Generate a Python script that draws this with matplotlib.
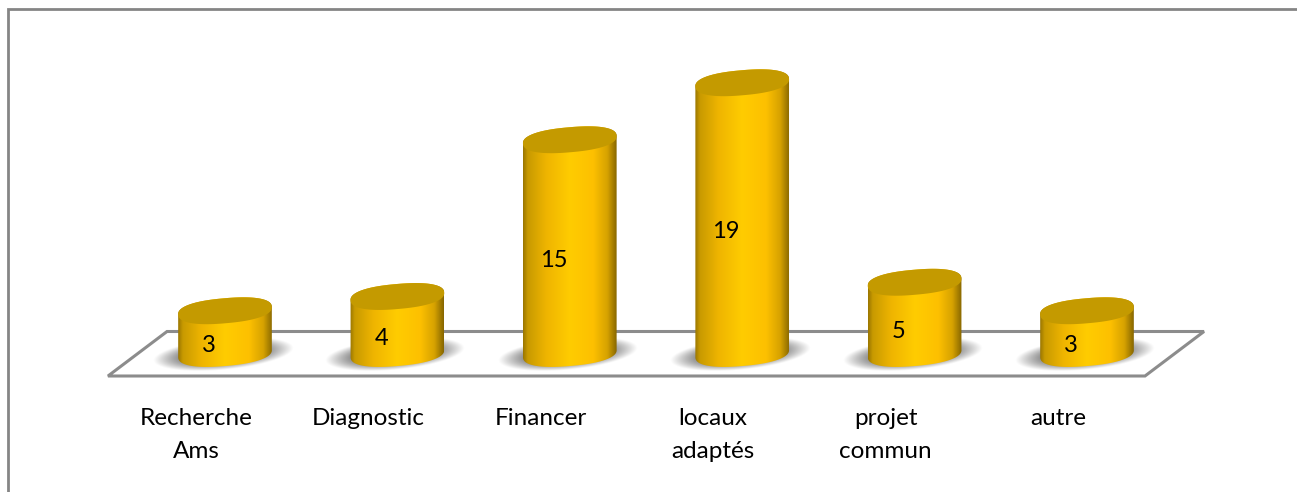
import numpy as np
import matplotlib
matplotlib.use('Agg')
import matplotlib.pyplot as plt
from matplotlib.colors import LinearSegmentedColormap
from matplotlib.patches import Polygon

plt.rcParams['font.family'] = ['Lato', 'DejaVu Sans']

labels = ['Recherche\nAms', 'Diagnostic', 'Financer', 'locaux\nadaptés', 'projet\ncommun', 'autre']
values = [3, 4, 15, 19, 5, 3]

W, H = 1297, 492
# pixels per category / per unit of value
x0, dx = 225, 172.4
y0, dy = 353.5, 14.25

fig = plt.figure(figsize=(W / 100, H / 100), dpi=100)
ax = fig.add_axes([0, 0, 1, 1])
ax.set_xlim((0 - x0) / dx, (W - x0) / dx)
ax.set_ylim((y0 - H) / dy, (y0 - 0) / dy)
ax.axis('off')

# conversions for things sized in pixels
px = 1 / dx
py = 1 / dy

# frame: left and top only, the picture is cropped on the other sides
frame_x = np.array([8, 8, 1297])
frame_y = np.array([492, 9, 9])
ax.plot((frame_x - x0) * px, (y0 - frame_y) * py, color='#858585', lw=2.0, solid_joinstyle='miter')

# floor
floor = np.array([[108, 376], [1145, 376], [1204, 331.5], [167, 331.5]], dtype=float)
floor_d = np.column_stack([(floor[:, 0] - x0) * px, (y0 - floor[:, 1]) * py])
ax.add_patch(Polygon(floor_d, closed=True, fill=False, ec='#8c8c8c', lw=2.2, joinstyle='miter', zorder=1))

body_cmap = LinearSegmentedColormap.from_list('body', [
    (0.0, '#9a7600'), (0.05, '#c89a00'), (0.25, '#efb500'), (0.5, '#ffcc00'),
    (0.75, '#fdc000'), (0.9, '#d6a200'), (1.0, '#866600')])


def ellipse(cx, cy, a=47, b=12.5, tilt=5.0, start=0, end=2 * np.pi, n=160):
    # tilted, slightly squared ellipse, returned in data coordinates
    t = np.linspace(start, end, n)
    r = np.radians(tilt)
    ex = a * np.sign(np.cos(t)) * np.abs(np.cos(t)) ** 0.85
    ey = b * np.sign(np.sin(t)) * np.abs(np.sin(t)) ** 0.85
    xs = ex * np.cos(r) - ey * np.sin(r)
    ys = ex * np.sin(r) + ey * np.cos(r)
    return cx + xs * px, cy + ys * py


for i, v in enumerate(values):
    # soft shadow on the floor, tilted like the cylinder base
    sx = np.linspace(i - 80 * px, i + 76 * px, 160)
    sy = np.linspace(-24 * py, 24 * py, 70)
    gx, gy = np.meshgrid(sx, sy)
    u = (gx - (i - 2 * px)) / px
    w = gy / py - u * 0.09
    d = (u / 70) ** 2 + (w / 16) ** 2
    alpha = np.clip(1 - d, 0, 1) ** 1.1 * 1.5
    img = np.zeros(alpha.shape + (4,))
    img[..., :3] = 0.5
    img[..., 3] = np.clip(alpha, 0, 1)
    ax.imshow(img, extent=(sx[0], sx[-1], sy[0], sy[-1]), origin='lower', aspect='auto',
              zorder=2, interpolation='bilinear')

    # body of the cylinder: gradient clipped to the outline
    xt, yt = ellipse(i, v, start=0, end=np.pi)
    xb, yb = ellipse(i, 0, start=np.pi, end=2 * np.pi)
    outline = np.column_stack([np.r_[xt, xb], np.r_[yt, yb]])
    grad = np.linspace(0, 1, 256).reshape(1, -1)
    im = ax.imshow(grad, cmap=body_cmap, extent=(i - 47 * px, i + 47 * px, -18 * py, v + 18 * py),
                   aspect='auto', zorder=3, interpolation='bilinear')
    im.set_clip_path(Polygon(outline, closed=True, transform=ax.transData))

    # top of the cylinder
    xe, ye = ellipse(i, v)
    ax.fill(xe, ye, color='#c49a00', lw=0, zorder=4)

    # value label
    ax.text(i - 16 * px, v / 2 - 13.5 * py, str(v), ha='center', va='center',
            fontsize=17, color='black', zorder=5)

    # category label
    ax.text(i - 29 * px, (y0 - 408) * py, labels[i], ha='center', va='top',
            fontsize=17.5, color='black', linespacing=1.72, zorder=5)

# keep imshow from resetting the limits
ax.set_xlim((0 - x0) / dx, (W - x0) / dx)
ax.set_ylim((y0 - H) / dy, (y0 - 0) / dy)

fig.savefig('out.png', dpi=100)
